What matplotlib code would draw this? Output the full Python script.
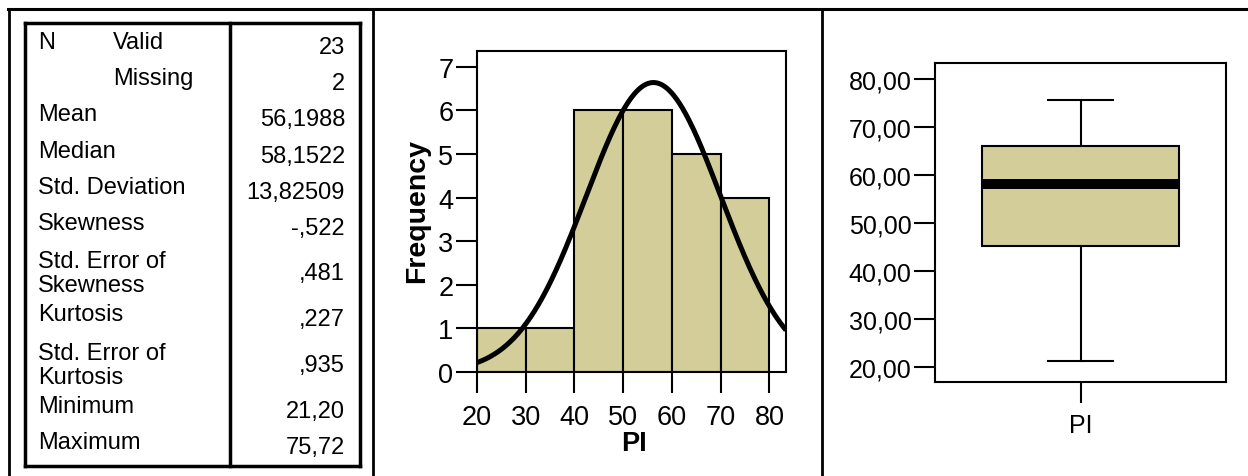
import numpy as np
import matplotlib
matplotlib.use("Agg")
import matplotlib.pyplot as plt
from matplotlib.lines import Line2D
from matplotlib.ticker import FuncFormatter

plt.rcParams['font.family'] = ['Liberation Sans', 'DejaVu Sans']

# statistics table
stat_labels = ["N", "", "Mean", "Median", "Std. Deviation", "Skewness",
               "Std. Error of\nSkewness", "Kurtosis", "Std. Error of\nKurtosis",
               "Minimum", "Maximum"]
sub_labels = ["Valid", "Missing", "", "", "", "", "", "", "", "", ""]
stat_values = ["23", "2", "56,1988", "58,1522", "13,82509", "-,522",
               ",481", ",227", ",935", "21,20", "75,72"]

# histogram of PI
bin_edges = [20, 30, 40, 50, 60, 70, 80]
counts = [1, 1, 6, 6, 5, 4]
pi_n = 23
pi_mean = 56.1988
pi_sd = 13.82509

# boxplot of PI
box_stats = {"label": "PI", "whislo": 21.20, "q1": 45.3, "med": 58.15,
             "q3": 66.1, "whishi": 75.72}

W, H = 1248, 477
fig = plt.figure(figsize=(W / 100, H / 100), dpi=100)
FS = 17
tan = "#D3CE99"


def fx(px):
    return px / W


def fy(py):
    return 1 - py / H


def hline(x0, x1, y, lw):
    fig.add_artist(Line2D([fx(x0), fx(x1)], [fy(y), fy(y)], color="black",
                          lw=lw, transform=fig.transFigure))


def vline(x, y0, y1, lw):
    fig.add_artist(Line2D([fx(x), fx(x)], [fy(y0), fy(y1)], color="black",
                          lw=lw, transform=fig.transFigure))


# outer frame
hline(8, W, 10, 2.2)
vline(9, 10, H, 2.0)
vline(373, 10, H, 2.0)
vline(822, 10, H, 2.0)

# table box
hline(25, 360, 24, 2.5)
hline(25, 360, 467, 2.5)
vline(25, 24, 467, 2.5)
vline(360, 24, 467, 2.5)
vline(230, 24, 467, 2.5)

row_y = [45, 81, 117, 154, 190, 226, 274, 317, 366, 409, 445]
for lab, sub, val, y in zip(stat_labels, sub_labels, stat_values, row_y):
    ly = y - 2 if "\n" not in lab else y
    fig.text(fx(38), fy(ly), lab, fontsize=FS, ha="left", va="center",
             linespacing=1.1)
    if sub:
        fig.text(fx(113), fy(y - 2), sub, fontsize=FS, ha="left", va="center")
    vy = y + 3 if "\n" not in lab else y
    fig.text(fx(345), fy(vy), val, fontsize=FS, ha="right", va="center")

# histogram
ax1 = fig.add_axes([fx(477), fy(373), (786 - 477) / W, (373 - 52) / H])
lefts = bin_edges[:-1]
widths = np.diff(bin_edges)
ax1.bar(lefts, counts, width=widths, align="edge", color=tan,
        edgecolor="black", linewidth=1.5, zorder=2)
ax1.set_xlim(20, 83.4)
ax1.set_ylim(0, 7.36)
xs = np.linspace(20, 83.4, 300)
binw = bin_edges[1] - bin_edges[0]
curve = pi_n * binw / (pi_sd * np.sqrt(2 * np.pi)) * np.exp(-0.5 * ((xs - pi_mean) / pi_sd) ** 2)
ax1.plot(xs, curve, color="black", lw=3.6, zorder=3, solid_capstyle="butt")
ax1.set_xticks(bin_edges)
ax1.set_yticks(range(0, 8))
ax1.tick_params(length=15, width=1.5, labelsize=19.5, pad=2)
ax1.tick_params(axis="x", pad=8)
for s in ax1.spines.values():
    s.set_linewidth(1.5)
fig.text(fx(417), fy(211), "Frequency", rotation=90, fontsize=20.5,
         fontweight="bold", ha="center", va="center")
fig.text(fx(634), fy(444), "PI", fontsize=19.5, fontweight="bold",
         ha="center", va="center")

# boxplot
ax2 = fig.add_axes([fx(935), fy(383), (1226 - 935) / W, (383 - 64) / H])
ax2.bxp([box_stats], positions=[1], widths=[0.677], capwidths=[0.223],
        showfliers=False, patch_artist=True,
        boxprops=dict(facecolor=tan, edgecolor="black", linewidth=1.5),
        medianprops=dict(color="black", linewidth=7.2, solid_capstyle="butt"),
        whiskerprops=dict(color="black", linewidth=1.5),
        capprops=dict(color="black", linewidth=1.5))
ax2.set_xlim(0.5, 1.5)
ax2.set_ylim(16.875, 83.33)
ax2.set_yticks([20, 30, 40, 50, 60, 70, 80])
ax2.yaxis.set_major_formatter(FuncFormatter(lambda v, p: f"{v:.2f}".replace(".", ",")))
ax2.set_xticks([1])
ax2.set_xticklabels(["PI"])
ax2.tick_params(length=15, width=1.5, labelsize=18, pad=2)
ax2.tick_params(axis="x", pad=7)
for s in ax2.spines.values():
    s.set_linewidth(1.5)

fig.savefig("out.png", dpi=100)
